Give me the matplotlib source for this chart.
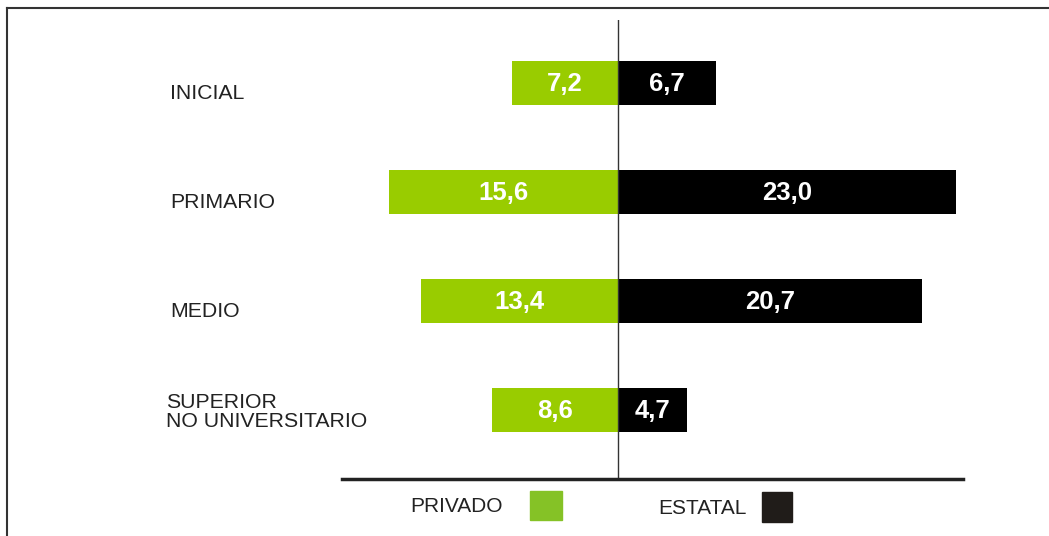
#! /usr/bin/env python

import matplotlib
matplotlib.use("Agg")
import matplotlib.pyplot as plt
from matplotlib.lines import Line2D
from matplotlib.patches import Rectangle
import numpy as np

plt.rcParams["font.family"] = ["Liberation Sans", "DejaVu Sans"]

categories = ["INICIAL", "PRIMARIO", "MEDIO", "SUPERIOR\nNO UNIVERSITARIO"]
privado = [7.2, 15.6, 13.4, 8.6]
estatal = [6.7, 23.0, 20.7, 4.7]
series_names = ["PRIVADO", "ESTATAL"]

green = "#99cc00"
black = "#000000"

fig = plt.figure(figsize=(10.49, 5.36), dpi=100)
ax = fig.add_axes([0.326, 0.1063, 0.592, 0.8564])

y = np.arange(len(categories))
h = 0.4
bars_p = ax.barh(y, [-v for v in privado], height=h, color=green, linewidth=0)
bars_e = ax.barh(y, estatal, height=h, color=black, linewidth=0)

def fmt(v):
    return f"{v:.1f}".replace(".", ",")

for bar, v in zip(bars_p, privado):
    ax.text(bar.get_x() + bar.get_width() / 2, bar.get_y() + h / 2 + 0.01, fmt(v),
            ha="center", va="center", color="white", fontsize=18.5, fontweight="bold")
for bar, v in zip(bars_e, estatal):
    ax.text(bar.get_x() + bar.get_width() / 2, bar.get_y() + h / 2 + 0.01, fmt(v),
            ha="center", va="center", color="white", fontsize=18.5, fontweight="bold")

ax.set_xlim(-18.78, 23.47)
ax.set_ylim(3.633, -0.578)
ax.axvline(0, color="#333333", linewidth=1)
ax.axhline(3.633, color="#222222", linewidth=2.5, clip_on=False)
for s in ax.spines.values():
    s.set_visible(False)
ax.set_xticks([])
ax.set_yticks([])

# category labels at the left, a bit below the bar centres
for i, c in enumerate(categories):
    if "\n" in c:
        ax.text(-0.284, i + 0.02, c, transform=ax.get_yaxis_transform(),
                ha="left", va="center", fontsize=15.3, color="#222222", linespacing=1.0)
    else:
        ax.text(-0.277, i + 0.1, c, transform=ax.get_yaxis_transform(),
                ha="left", va="center", fontsize=15.3, color="#222222")

# legend
fig.text(410 / 1049, 1 - 506 / 536, series_names[0], ha="left", va="center",
         fontsize=15, color="#222222")
fig.patches.append(Rectangle((530 / 1049, 1 - 520 / 536), 32 / 1049, 29 / 536,
                             transform=fig.transFigure, color="#85c226"))
fig.text(658 / 1049, 1 - 508 / 536, series_names[1], ha="left", va="center",
         fontsize=15, color="#222222")
fig.patches.append(Rectangle((762 / 1049, 1 - 522 / 536), 30 / 1049, 30 / 536,
                             transform=fig.transFigure, color="#201c19"))

# frame lines on top and left
fig.lines.append(Line2D([7 / 1049, 7 / 1049], [0, 1 - 8 / 536], transform=fig.transFigure,
                        color="#333333", linewidth=1.5))
fig.lines.append(Line2D([7 / 1049, 1], [1 - 8 / 536, 1 - 8 / 536], transform=fig.transFigure,
                        color="#333333", linewidth=1.5))

plt.savefig("out.png", dpi=100)
